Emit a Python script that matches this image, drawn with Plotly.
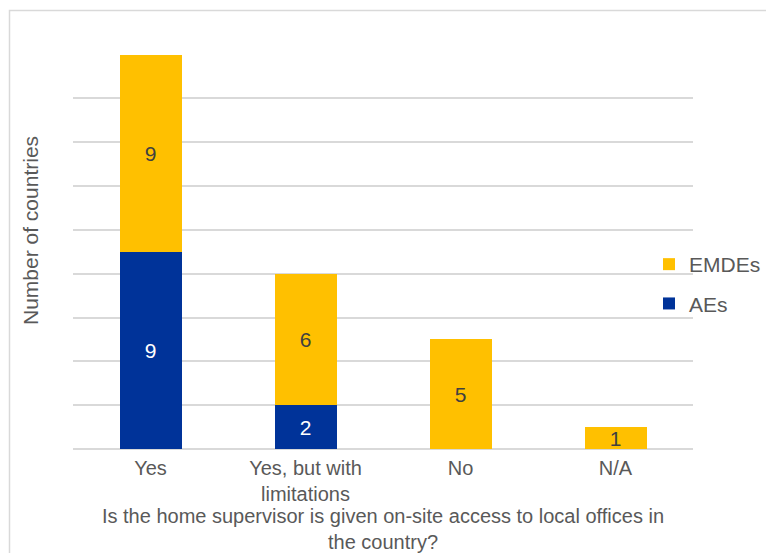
import plotly.graph_objects as go

categories = ["Yes", "Yes, but with<br>limitations", "No", "N/A"]
aes_values = [9, 2, 0, 0]
emdes_values = [9, 6, 5, 1]
y_ticks = [0, 2, 4, 6, 8, 10, 12, 14, 16, 18]

FONT = "Liberation Sans, Arial, sans-serif"
FS = 21
FSX = 20
OFF = 8  # page body margin
W, H = 774 - OFF, 553 - OFF
L, R, T, B = 65, 81, 46, 104
pw, ph = W - L - R, H - T - B

def px_x(x):
    # page pixel -> paper fraction
    return (x - OFF - L) / pw

def px_y(y):
    return (H - B - (y - OFF)) / ph

fig = go.Figure()
fig.add_trace(go.Bar(
    name="AEs", x=categories, y=aes_values,
    text=[str(v) if v else "" for v in aes_values],
    textposition="inside", insidetextanchor="middle", constraintext="none", textangle=0,
    textfont=dict(color="white", size=FS, family=FONT),
    marker=dict(color="#003399", line=dict(width=0)),
    legendgroup="a", legendrank=2, width=0.4,
))
fig.add_trace(go.Bar(
    name="EMDEs", x=categories, y=emdes_values,
    text=[str(v) if v else "" for v in emdes_values],
    textposition="inside", insidetextanchor="middle", constraintext="none", textangle=0,
    textfont=dict(color="#404040", size=FS, family=FONT),
    marker=dict(color="#FFC000", line=dict(width=0)),
    legendgroup="b", legendrank=1, width=0.4,
))

fig.update_layout(
    barmode="stack",
    width=W, height=H,
    margin=dict(l=L, r=R, t=T, b=B, pad=0, autoexpand=False),
    paper_bgcolor="white", plot_bgcolor="white",
    font=dict(family=FONT, size=FS, color="#595959"),
    xaxis=dict(
        automargin=False,
        showline=False, showgrid=False, ticks="outside", ticklen=1, tickcolor="rgba(0,0,0,0)",
        tickfont=dict(size=FSX, color="#595959"),
        title=dict(text="Is the home supervisor is given on-site access to local offices in<br>the country?",
                   font=dict(size=FSX, color="#595959"), standoff=17),
    ),
    yaxis=dict(
        automargin=False,
        range=[0, 18.03], tickvals=y_ticks, showticklabels=False, ticks="",
        showgrid=True, gridcolor="#d9d9d9", gridwidth=1.5, zeroline=True,
        zerolinecolor="#d9d9d9", zerolinewidth=1.5, showline=False,
    ),
    legend=dict(
        x=px_x(649), y=px_y(244), xanchor="left", yanchor="top",
        traceorder="grouped", tracegroupgap=9,
        font=dict(size=FS, color="#595959"), bgcolor="rgba(0,0,0,0)",
    ),
    showlegend=True,
    annotations=[dict(
        text="Number of countries", textangle=-90, showarrow=False,
        xref="paper", yref="paper", x=px_x(31), y=px_y(231),
        xanchor="center", yanchor="middle",
        font=dict(size=FS, color="#595959"),
    )],
    shapes=[dict(
        type="rect", xref="paper", yref="paper",
        x0=px_x(9.5), y0=px_y(900), x1=px_x(1000), y1=px_y(10.5),
        line=dict(color="#d9d9d9", width=1.5), fillcolor="rgba(0,0,0,0)", layer="below",
    )],
)

fig.write_html("out.html")
